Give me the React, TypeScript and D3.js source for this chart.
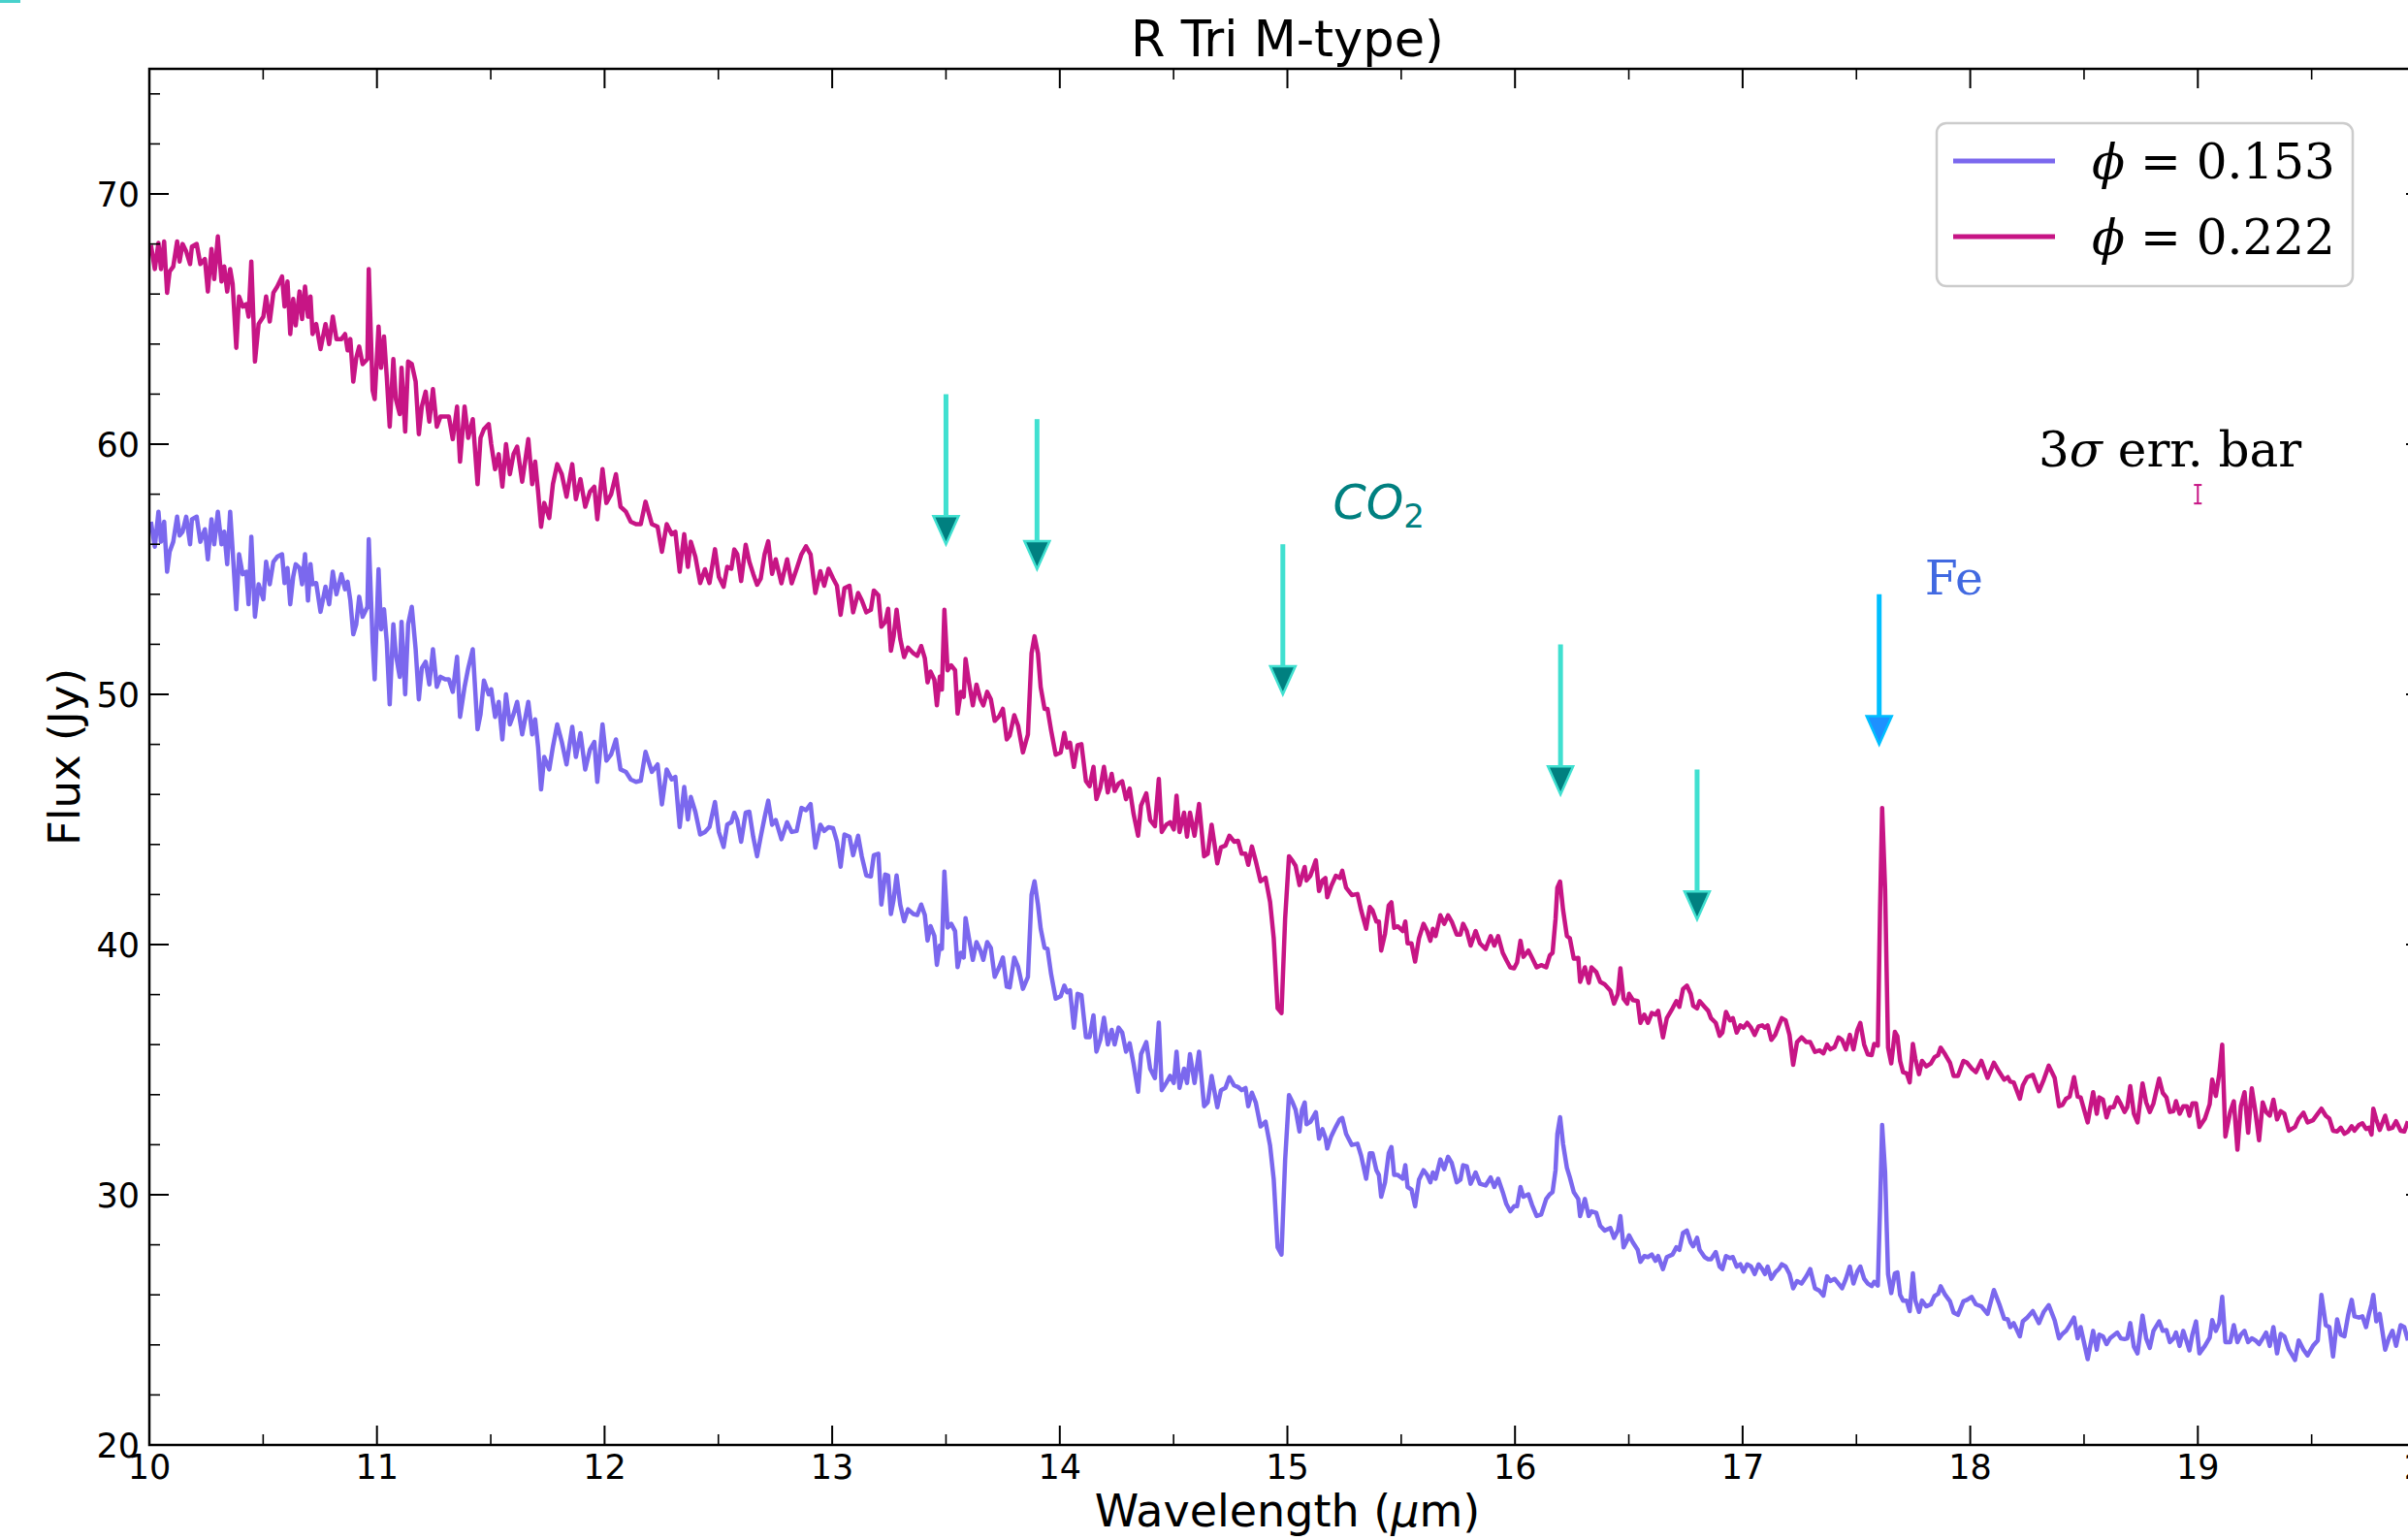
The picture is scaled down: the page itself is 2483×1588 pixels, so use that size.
import React from 'react';
import * as d3 from 'd3';

// wavelengths (micron)
const wavelength = [
  10.007,10.024,10.040,10.051,10.065,10.078,10.089,10.105,10.122,10.133,
  10.146,10.162,10.179,10.187,10.208,10.224,10.244,10.257,10.273,10.285,
  10.301,10.317,10.329,10.342,10.355,10.366,10.382,10.394,10.410,10.426,
  10.436,10.448,10.464,10.480,10.501,10.513,10.529,10.545,10.562,10.583,
  10.594,10.607,10.619,10.632,10.643,10.660,10.671,10.684,10.697,10.708,
  10.717,10.733,10.752,10.774,10.790,10.806,10.822,10.844,10.860,10.871,
  10.883,10.896,10.909,10.922,10.937,10.958,10.964,10.981,10.990,11.007,
  11.018,11.031,11.043,11.056,11.072,11.083,11.100,11.108,11.124,11.137,
  11.153,11.170,11.184,11.197,11.214,11.230,11.246,11.263,11.279,11.300,
  11.316,11.333,11.352,11.365,11.385,11.401,11.421,11.442,11.455,11.470,
  11.491,11.502,11.519,11.535,11.551,11.567,11.584,11.600,11.616,11.638,
  11.665,11.682,11.695,11.708,11.721,11.735,11.757,11.773,11.792,11.812,
  11.833,11.858,11.874,11.894,11.915,11.936,11.955,11.968,11.991,12.008,
  12.029,12.050,12.070,12.094,12.115,12.138,12.159,12.180,12.208,12.233,
  12.252,12.273,12.295,12.311,12.330,12.350,12.366,12.379,12.399,12.420,
  12.441,12.461,12.485,12.502,12.523,12.539,
  12.557,12.570,12.583,12.600,12.620,12.636,12.653,12.670,12.686,12.703,
  12.719,12.736,12.752,12.777,12.802,12.822,12.844,12.865,12.885,12.905,
  12.926,12.948,12.965,12.984,13.004,13.021,13.037,13.054,13.076,13.092,
  13.114,13.130,13.150,13.170,13.183,13.203,13.216,13.233,13.246,13.258,
  13.270,13.283,13.299,13.316,13.333,13.357,13.374,13.391,13.407,13.419,
  13.432,13.449,13.460,13.473,13.482,13.493,13.507,13.523,13.540,13.551,
  13.565,13.578,13.586,13.601,13.618,13.634,13.651,13.664,13.681,13.697,
  13.714,13.734,13.750,13.767,13.780,13.800,13.817,13.838,13.860,13.876,
  13.889,13.904,13.916,13.933,13.946,13.962,13.982,14.004,14.020,14.032,
  14.045,14.062,14.078,14.095,14.115,14.131,14.148,14.161,14.178,14.194,
  14.211,14.228,14.241,14.258,14.274,14.291,14.307,14.324,14.344,14.357,
  14.380,14.397,14.418,14.435,14.448,14.468,14.485,14.501,14.513,14.526,
  14.546,14.559,14.572,14.592,14.612,14.634,14.650,14.667,14.692,14.708,
  14.728,14.745,14.766,14.783,14.799,14.816,14.828,14.844,14.861,14.882,
  14.904,14.924,14.940,14.957,14.974,14.990,15.007,15.023,15.036,15.053,
  15.064,15.076,15.084,15.101,15.125,15.139,15.154,15.167,15.175,15.192,
  15.213,15.230,15.241,15.258,15.283,15.308,15.324,15.346,15.362,15.374,
  15.391,15.402,15.412,15.429,15.445,15.457,15.469,15.485,15.507,15.518,
  15.528,15.545,15.561,15.578,15.598,15.614,15.628,15.639,15.651,15.672,
  15.689,15.706,15.722,15.744,15.760,15.772,15.788,15.805,15.827,15.846,
  15.871,15.893,15.909,15.926,15.946,15.962,15.979,15.996,16.009,16.024,
  16.037,16.059,16.075,16.095,16.115,16.137,16.153,16.165,16.178,16.186,
  16.198,16.211,16.228,16.241,16.258,16.278,16.286,16.307,16.324,16.336,
  16.357,16.374,16.394,16.419,16.435,16.452,16.463,16.477,16.493,16.501,
  16.518,16.539,16.551,16.568,16.584,16.601,16.617,16.629,16.650,16.667,
  16.692,16.709,16.722,16.738,16.755,16.772,16.783,16.800,16.811,16.833,
  16.849,16.861,16.882,16.899,16.911,16.927,16.944,16.957,16.974,16.990,
  17.004,17.020,17.037,17.053,17.070,17.086,17.098,17.110,17.126,17.143,
  17.159,17.172,17.189,17.206,17.222,17.239,17.259,17.280,17.297,17.318,
  17.338,17.355,17.371,17.385,17.404,17.421,17.437,17.454,17.471,17.487,
  17.504,17.517,17.534,17.550,17.567,
  17.578,17.594,17.604,17.613,17.626,17.639,17.653,17.669,17.680,17.692,
  17.705,17.721,17.734,17.748,17.759,17.775,17.788,17.807,17.827,17.843,
  17.859,17.870,17.890,17.911,17.927,17.946,17.970,17.986,18.006,18.025,
  18.049,18.076,18.104,18.128,18.149,18.165,18.176,18.191,18.218,18.231,
  18.250,18.275,18.302,18.323,18.345,18.371,18.390,18.405,18.421,18.437,
  18.456,18.472,18.485,18.516,18.540,18.556,18.567,18.583,18.599,18.614,
  18.630,18.646,18.662,18.678,18.690,18.703,18.719,18.735,18.757,18.773,
  18.789,18.805,18.830,18.846,18.862,18.877,18.893,18.904,18.920,18.936,
  18.952,18.963,18.976,18.992,19.007,19.031,19.052,19.063,19.079,19.094,
  19.107,19.121,19.142,19.158,19.174,19.189,19.205,19.221,19.237,19.253,
  19.269,19.285,19.300,19.316,19.332,19.348,19.364,19.380,19.400,19.427,
  19.443,19.464,19.482,19.506,19.527,19.543,19.562,19.578,19.594,19.612,
  19.628,19.644,19.660,19.676,19.688,19.708,19.723,19.739,19.752,19.763,
  19.771,19.784,19.799,19.823,19.839,19.855,19.871,19.891,19.907,19.923,
];

// phi = 0.153 (lower spectrum), Jy
const flux153 = [
  56.9,55.9,57.3,56.1,56.9,54.9,55.7,56.1,57.1,56.35,
  56.5,57.1,56.0,57.0,57.1,56.1,56.6,55.4,57.0,56.0,
  57.3,56.0,56.5,55.2,57.3,55.75,53.4,55.6,54.8,54.9,
  53.6,56.3,53.1,54.4,53.8,55.3,54.4,55.3,55.5,55.6,
  54.45,55.05,53.6,54.7,55.2,55.05,54.4,55.6,53.75,55.2,
  54.4,54.45,53.3,54.3,53.6,54.9,54.0,54.8,54.2,54.5,
  53.75,52.4,52.8,53.9,53.1,53.5,56.2,52.1,50.6,55.0,
  52.6,53.4,52.1,49.6,52.8,51.6,50.7,52.9,50.0,52.8,
  53.5,51.8,49.8,51.05,51.3,50.4,51.8,50.3,50.7,50.6,
  50.6,50.1,51.5,49.1,50.3,51.05,51.8,48.6,49.2,50.55,
  50.0,50.2,49.1,49.7,48.2,50.0,48.8,49.2,49.7,48.4,
  49.7,48.4,49.0,47.9,46.2,47.5,47.0,47.9,48.8,48.1,
  47.2,48.7,47.5,48.45,47.0,47.8,48.1,46.5,48.8,47.35,
  47.6,48.2,47.0,46.9,46.6,46.5,46.55,47.7,46.9,47.2,
  45.6,47.0,46.6,46.7,44.7,46.3,45.0,45.9,45.3,44.4,
  44.5,44.7,45.7,44.5,43.9,44.8,
  44.89,45.27,44.98,44.11,45.27,45.31,44.31,43.53,44.31,45.08,
  45.75,44.79,44.98,44.21,44.89,44.5,44.54,45.46,45.37,45.62,
  43.88,44.79,44.54,44.69,44.65,44.11,43.11,44.4,44.31,43.57,
  44.35,43.53,42.76,42.72,43.57,43.63,41.6,42.8,42.76,41.22,
  41.8,42.76,41.6,40.93,41.41,41.22,41.18,41.6,41.18,40.16,
  40.74,40.35,39.19,39.96,39.83,42.92,40.68,40.83,40.54,39.1,
  39.67,39.48,41.06,40.25,39.39,40.1,39.77,39.39,40.1,39.87,
  38.71,39.1,39.48,38.32,38.29,39.48,39.1,38.23,38.71,41.99,
  42.53,41.6,40.64,39.87,39.83,38.81,37.84,37.94,38.36,38.09,
  38.17,36.68,38.03,37.98,36.3,36.3,37.17,35.72,36.2,37.07,
  36.01,36.59,36.01,36.68,36.49,35.72,36.05,35.24,34.12,35.62,
  36.1,35.04,34.66,36.88,34.18,34.47,34.75,34.47,35.72,34.27,
  35.04,34.47,35.62,34.47,35.72,33.54,33.69,34.75,33.5,34.18,
  34.27,34.7,34.37,34.31,34.18,34.27,33.54,34.08,33.69,32.73,
  32.92,31.96,30.61,27.9,27.61,31.38,33.98,33.69,33.4,32.53,
  33.4,33.69,32.82,32.91,33.3,32.24,32.62,32.29,31.85,32.33,
  32.72,33.01,33.07,32.43,31.99,32.04,31.56,30.64,31.66,31.66,
  30.98,30.79,29.92,30.5,31.66,31.91,30.79,30.79,30.64,31.18,
  30.31,30.21,29.54,30.6,30.98,30.79,30.5,30.89,30.64,31.41,
  31.02,31.52,31.27,30.5,30.6,31.18,31.14,30.44,30.89,30.44,
  30.37,30.69,30.31,30.64,30.11,29.63,29.34,29.54,29.54,30.31,
  29.92,30.02,29.59,29.15,29.21,29.83,30.02,30.11,30.98,32.43,
  33.1,32.04,31.08,30.69,30.11,29.83,29.15,29.83,29.15,29.34,
  29.28,28.76,28.57,28.67,28.28,28.57,29.15,27.9,28.19,28.38,
  28.09,27.8,27.32,27.55,27.51,27.61,27.36,27.55,27.03,27.51,
  27.61,27.9,27.8,28.47,28.57,28.09,27.94,28.28,27.8,27.51,
  27.42,27.42,27.71,27.13,27.03,27.55,27.47,27.51,27.13,27.22,
  26.93,27.22,27.13,26.83,27.22,27.03,26.83,27.13,26.64,26.89,
  27.03,27.22,27.13,26.83,26.26,26.55,26.45,26.74,27.03,26.26,
  26.16,25.97,26.74,26.55,26.64,26.45,26.26,26.64,27.13,26.45,
  26.93,27.13,26.64,26.45,26.35,
  26.52,26.37,29.54,32.79,30.9,26.83,26.07,26.86,26.9,26.0,
  25.77,25.77,25.35,26.86,25.77,25.32,25.77,25.54,25.62,25.95,
  26.04,26.34,26.0,25.74,25.29,25.2,25.74,25.8,25.92,25.62,
  25.54,25.24,26.19,25.62,25.05,25.02,24.71,24.87,24.34,24.94,
  25.09,25.35,24.87,25.32,25.59,24.98,24.26,24.44,24.56,24.79,
  25.09,24.26,24.71,23.43,24.56,23.81,24.41,24.34,24.03,24.26,
  24.38,24.49,24.26,24.23,24.26,24.87,23.93,23.66,25.17,24.26,
  23.88,24.56,24.94,24.56,24.59,24.11,24.26,24.49,23.96,24.56,
  24.11,23.78,24.41,24.94,23.66,23.96,24.29,24.99,24.56,24.87,
  25.92,24.11,24.11,24.79,24.11,24.41,24.56,24.11,24.26,24.18,
  24.03,24.26,24.49,23.96,24.71,23.66,24.44,24.34,23.81,23.4,
  24.18,23.81,23.58,23.96,24.18,26.0,24.79,24.71,23.54,25.02,
  24.41,24.34,25.17,25.8,25.14,25.09,25.14,24.71,25.24,25.62,
  26.0,24.94,25.24,23.81,24.26,24.56,23.96,24.79,24.71,24.18,
];

// phi = 0.222 (upper spectrum), Jy
const flux222 = [
  67.96,67.0,68.04,67.0,68.1,66.05,66.9,67.1,68.1,67.3,
  68.0,67.7,67.2,67.9,68.0,67.2,67.4,66.1,67.8,66.6,
  68.3,66.5,67.1,66.1,67.0,66.4,63.85,65.9,65.5,65.6,
  65.1,67.3,63.3,64.8,65.1,65.9,64.9,66.05,66.3,66.7,
  65.5,66.5,64.4,65.8,64.75,66.1,65.0,66.3,65.1,65.9,
  64.4,64.8,63.8,64.8,64.0,65.1,64.2,64.2,64.4,63.75,
  64.2,62.5,63.45,63.9,63.2,63.4,67.0,62.15,61.8,64.7,
  63.05,64.3,62.7,60.7,63.4,61.8,61.2,63.05,60.5,63.3,
  63.2,62.5,60.4,61.5,62.1,60.9,62.2,60.7,61.1,61.1,
  61.1,60.2,61.5,59.3,61.5,60.25,61.0,58.4,60.25,60.6,
  60.8,60.0,59.0,59.6,58.3,60.0,58.8,59.6,59.9,58.5,
  60.2,58.4,59.3,58.1,56.7,57.65,57.05,58.4,59.2,58.8,
  57.9,59.2,57.8,58.6,57.5,58.1,58.3,57.0,59.0,57.65,
  58.0,58.8,57.5,57.3,56.9,56.8,56.8,57.7,56.8,56.7,
  55.7,56.8,56.4,56.5,54.9,56.4,55.1,56.1,55.5,54.45,
  55.0,54.45,55.8,54.7,54.3,55.1,
  55.02,55.79,55.6,54.53,55.98,55.3,54.82,54.38,54.63,55.6,
  56.12,54.82,55.4,54.44,55.4,54.44,55.02,55.6,55.92,55.6,
  54.05,54.92,54.34,55.02,54.63,54.34,53.18,54.24,54.34,53.28,
  54.05,53.76,53.28,53.38,54.15,53.96,52.7,52.89,53.42,51.74,
  52.32,53.38,52.22,51.49,51.87,51.64,51.54,51.93,51.45,50.48,
  50.91,50.58,49.56,50.71,50.19,53.38,50.96,51.16,50.96,49.23,
  50.1,49.9,51.41,50.48,49.56,50.39,49.81,49.56,50.1,49.81,
  48.94,49.13,49.42,48.2,48.36,49.17,48.74,47.68,48.4,51.64,
  52.32,51.64,50.29,49.42,49.42,48.55,47.59,47.68,48.46,47.88,
  48.07,47.1,47.97,48.01,46.53,46.33,47.1,45.81,46.27,47.1,
  46.08,46.82,46.14,46.43,46.53,45.81,46.24,45.23,44.35,45.56,
  46.04,44.98,44.73,46.62,44.5,44.79,44.89,44.6,45.95,44.5,
  45.27,44.31,45.27,44.35,45.62,43.53,43.63,44.79,43.25,43.88,
  43.96,44.35,44.11,44.15,43.63,43.63,43.19,43.92,43.34,42.53,
  42.67,41.7,40.25,37.46,37.26,41.03,43.53,43.34,43.15,42.38,
  42.75,43.1,42.56,42.75,43.37,42.14,42.56,42.66,41.89,42.33,
  42.75,42.66,42.95,42.27,41.98,42.02,41.37,40.63,41.5,41.37,
  40.92,40.92,39.76,40.44,41.56,41.69,40.67,40.73,40.54,40.92,
  40.05,40.05,39.32,40.25,40.83,40.54,40.15,40.63,40.34,41.17,
  40.83,41.17,40.92,40.4,40.4,40.83,40.54,39.96,40.54,40.05,
  39.82,40.34,39.96,40.34,39.67,39.38,39.09,39.05,39.28,40.15,
  39.51,39.76,39.47,39.09,39.18,39.09,39.57,39.67,41.02,42.27,
  42.52,41.4,40.34,40.25,39.44,39.47,38.51,39.09,38.47,39.09,
  38.9,38.51,38.41,38.16,37.64,38.03,39.05,37.83,37.64,38.03,
  37.78,37.74,36.87,37.2,36.87,37.26,37.2,37.35,36.29,37.06,
  37.45,37.74,37.51,38.22,38.36,38.03,37.55,37.45,37.74,37.51,
  37.35,37.06,36.87,36.35,36.48,37.31,36.97,37.06,36.48,36.77,
  36.68,36.87,36.68,36.39,36.73,36.77,36.68,36.77,36.19,36.39,
  36.77,37.06,36.97,36.39,35.19,36.1,36.29,36.1,36.1,35.71,
  35.77,35.65,36.0,35.81,35.9,36.29,36.19,35.81,36.39,35.81,
  36.58,36.87,36.0,35.61,35.58,
  36.03,35.96,41.46,45.46,42.22,35.88,35.25,36.51,36.33,35.35,
  34.9,34.85,34.49,36.03,35.43,34.82,35.35,35.13,35.25,35.5,
  35.58,35.88,35.61,35.28,34.75,34.75,35.35,35.28,35.05,34.9,
  35.35,34.67,35.28,34.9,34.6,34.7,34.52,34.49,33.84,34.37,
  34.7,34.79,34.14,34.6,35.16,34.67,33.54,33.59,33.84,33.92,
  34.7,33.92,33.89,32.89,34.1,33.24,33.89,33.8,33.09,33.5,
  33.5,33.89,33.62,33.31,33.5,34.34,33.24,32.89,34.45,33.69,
  33.31,33.65,34.64,34.07,33.89,33.31,33.34,33.74,33.24,33.54,
  33.54,33.16,33.65,33.65,32.71,33.04,33.62,34.6,33.95,34.82,
  36.0,32.33,33.31,33.74,31.8,33.54,34.1,32.48,34.25,33.31,
  32.18,33.69,33.31,33.16,33.8,33.01,33.34,33.24,32.56,32.71,
  33.04,33.28,32.89,32.98,33.24,33.44,33.16,33.04,32.56,32.53,
  32.68,32.44,32.53,32.74,32.56,32.79,32.86,32.63,32.68,32.41,
  33.44,33.01,32.59,33.16,32.63,32.68,32.94,32.56,32.53,32.94,
];

const xTicks = [10, 11, 12, 13, 14, 15, 16, 17, 18, 19, 20];
const yTicks = [20, 30, 40, 50, 60, 70];

// line markers: wavelength, arrow start flux, arrow tip flux
const co2Arrows = [
  [13.5, 62, 56],
  [13.9, 61, 55],
  [14.98, 56, 50],
  [16.2, 52, 46],
  [16.8, 47, 41],
];
const feArrow = [17.6, 54, 48];

const W = 2483;
const H = 1588;
const left = 154, right = 2501, top = 71, bottom = 1490;

const serif = '"DejaVu Serif", serif';
const sans = '"DejaVu Sans", sans-serif';

function Arrow({ x, y0, y1, shaft, head, edge }) {
  const hl = 29, hw = 13;
  return (
    <g>
      <line x1={x} x2={x} y1={y0} y2={y1 - hl + 2} stroke={shaft} strokeWidth={5} />
      <path d={`M${x - hw},${y1 - hl} L${x + hw},${y1 - hl} L${x},${y1} Z`}
        fill={head} stroke={edge} strokeWidth={2.5} strokeLinejoin="miter" />
    </g>
  );
}

export default function App() {
  const x = d3.scaleLinear().domain([10, 20]).range([left, right]);
  const y = d3.scaleLinear().domain([20, 75]).range([bottom, top]);

  const pts153 = wavelength.map((w, i) => [w, flux153[i]]);
  const pts222 = wavelength.map((w, i) => [w, flux222[i]]);
  const line = d3.line().x(d => x(d[0])).y(d => y(d[1]));

  const xMinor = d3.range(10.5, 20, 1);
  const yMinor = d3.range(22, 75, 2).filter(v => v % 10 !== 0);

  return (
    <svg width={W} height={H} style={{ position: 'absolute', left: 0, top: 0, background: '#fff' }}>
      <rect x={0} y={0} width={W} height={H} fill="#fff" />
      <rect x={0} y={0} width={21} height={3} fill="#48D1CC" />

      <text x={(left + right) / 2} y={58} textAnchor="middle" fontFamily={sans} fontSize={51}>R Tri M-type)</text>

      {/* spectra */}
      <path d={line(pts153)} fill="none" stroke="#7B68EE" strokeWidth={4.5} strokeLinejoin="round" />
      <path d={line(pts222)} fill="none" stroke="#C71585" strokeWidth={4.5} strokeLinejoin="round" />

      {/* frame */}
      <rect x={left} y={top} width={right - left} height={bottom - top} fill="none" stroke="#000" strokeWidth={2.5} />

      {xTicks.map(t => (
        <g key={'x' + t}>
          <line x1={x(t)} x2={x(t)} y1={bottom} y2={bottom - 20} stroke="#000" strokeWidth={2} />
          <line x1={x(t)} x2={x(t)} y1={top} y2={top + 20} stroke="#000" strokeWidth={2} />
          <text x={x(t)} y={bottom + 35} textAnchor="middle" fontFamily={sans} fontSize={35}>{t}</text>
        </g>
      ))}
      {xMinor.map(t => (
        <g key={'xm' + t}>
          <line x1={x(t)} x2={x(t)} y1={bottom} y2={bottom - 11} stroke="#000" strokeWidth={1.6} />
          <line x1={x(t)} x2={x(t)} y1={top} y2={top + 11} stroke="#000" strokeWidth={1.6} />
        </g>
      ))}
      {yTicks.map(t => (
        <g key={'y' + t}>
          <line x1={left} x2={left + 20} y1={y(t)} y2={y(t)} stroke="#000" strokeWidth={2} />
          <line x1={right} x2={right - 20} y1={y(t)} y2={y(t)} stroke="#000" strokeWidth={2} />
          <text x={left - 10} y={y(t)} dy="0.36em" textAnchor="end" fontFamily={sans} fontSize={35}>{t}</text>
        </g>
      ))}
      {yMinor.map(t => (
        <g key={'ym' + t}>
          <line x1={left} x2={left + 11} y1={y(t)} y2={y(t)} stroke="#000" strokeWidth={1.6} />
          <line x1={right} x2={right - 11} y1={y(t)} y2={y(t)} stroke="#000" strokeWidth={1.6} />
        </g>
      ))}

      <text x={(left + right) / 2} y={1574} textAnchor="middle" fontFamily={sans} fontSize={46}>
        Wavelength (<tspan fontStyle="italic">μ</tspan>m)
      </text>
      <text transform={`translate(82,${(top + bottom) / 2}) rotate(-90)`} textAnchor="middle" fontFamily={sans} fontSize={45}>
        Flux (Jy)
      </text>

      {/* annotations */}
      {co2Arrows.map(([w, a, b]) => (
        <Arrow key={'a' + w} x={x(w)} y0={y(a)} y1={y(b)} shaft="#40E0D0" head="#008080" edge="#40E0D0" />
      ))}
      <Arrow x={x(feArrow[0])} y0={y(feArrow[1])} y1={y(feArrow[2])} shaft="#00BFFF" head="#1E90FF" edge="#00BFFF" />

      <text x={x(15.2)} y={y(57)} fill="#008080" fontFamily={sans} fontSize={49}>
        <tspan fontStyle="italic">CO</tspan><tspan fontSize={34} dy={9}>2</tspan>
      </text>
      <text x={x(17.8)} y={y(54)} fill="#4169E1" fontFamily={serif} fontSize={49}>Fe</text>

      <text x={x(18.3)} y={y(59.1)} fontFamily={serif} fontSize={50}>
        3<tspan fontStyle="italic">σ</tspan> err. bar
      </text>
      <g stroke="#C71585" strokeWidth={2}>
        <line x1={x(19)} x2={x(19)} y1={y(58.37)} y2={y(57.63)} />
        <line x1={x(19) - 4} x2={x(19) + 4} y1={y(58.37)} y2={y(58.37)} />
        <line x1={x(19) - 4} x2={x(19) + 4} y1={y(57.63)} y2={y(57.63)} />
      </g>

      {/* legend */}
      <rect x={1997} y={127} width={429} height={168} rx={10} fill="#fff" fillOpacity={0.8} stroke="#ccc" strokeWidth={2.5} />
      <line x1={2014} x2={2119} y1={166} y2={166} stroke="#7B68EE" strokeWidth={5} />
      <line x1={2014} x2={2119} y1={244} y2={244} stroke="#C71585" strokeWidth={5} />
      <text x={2157} y={166} dy="0.36em" fontFamily={serif} fontSize={50}>
        <tspan fontStyle="italic">ϕ</tspan> = 0.153
      </text>
      <text x={2157} y={244} dy="0.36em" fontFamily={serif} fontSize={50}>
        <tspan fontStyle="italic">ϕ</tspan> = 0.222
      </text>
    </svg>
  );
}
